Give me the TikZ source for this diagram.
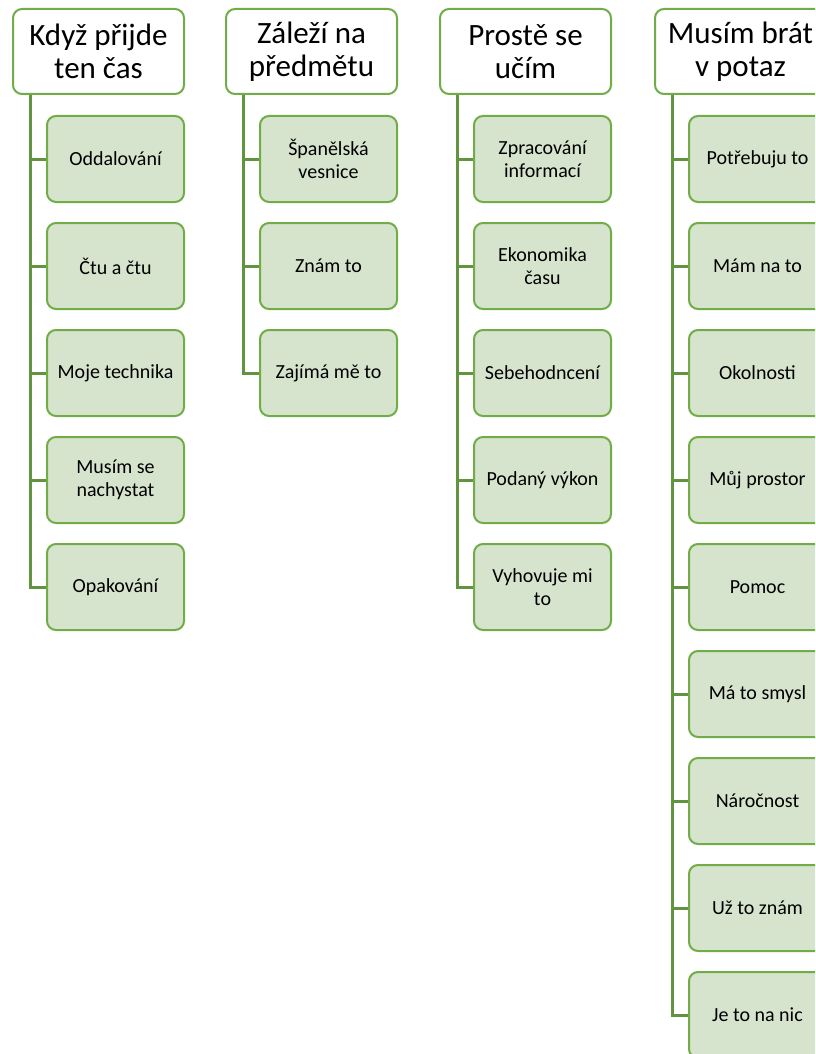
\documentclass[tikz,border=0pt]{standalone}
\usepackage{fontspec}
\setmainfont{Carlito}
\usetikzlibrary{backgrounds}
\definecolor{boxline}{RGB}{112,173,71}
\definecolor{linkline}{RGB}{96,148,62}
\definecolor{leaffill}{RGB}{214,228,206}
\tikzset{
  headbox/.style={draw=boxline, line width=2pt, fill=white, rounded corners=9pt,
    minimum width=171pt, minimum height=85pt, align=center, inner sep=2pt,
    font=\fontsize{31}{33}\selectfont},
  leafbox/.style={draw=boxline, line width=2pt, fill=leaffill, rounded corners=9pt,
    minimum width=137pt, minimum height=86pt, align=center, inner sep=2pt,
    font=\fontsize{20}{23}\selectfont},
  link/.style={draw=linkline, line width=3pt}
}
\begin{document}
\begin{tikzpicture}[x=1pt, y=-1pt]
  \clip (0,0) rectangle (815,1054);
  \useasboundingbox (0,0) rectangle (815,1054);

  % column heads (left edges 13, 226, 440, 655)
  \node[headbox] (h1) at (98.5,51.5)  {Když přijde\\ten čas};
  \node[headbox] (h2) at (311.5,51.5) {Záleží na\\předmětu};
  \node[headbox] (h3) at (525.5,51.5) {Prostě se\\učím};
  \node[headbox] (h4) at (740.5,51.5) {Musím brát\\v potaz};

  % first column
  \foreach \t [count=\i] in {Oddalování, Čtu a čtu, Moje technika, {Musím se\\nachystat}, Opakování}
    \node[leafbox] (a\i) at (115.5, {159+107*(\i-1)}) {\t};
  % second column
  \foreach \t [count=\i] in {{Španělská\\vesnice}, Znám to, Zajímá mě to}
    \node[leafbox] (b\i) at (328.5, {159+107*(\i-1)}) {\t};
  % third column
  \foreach \t [count=\i] in {{Zpracování\\informací}, {Ekonomika\\času}, Sebehodncení, Podaný výkon, {Vyhovuje mi\\to}}
    \node[leafbox] (c\i) at (542.5, {159+107*(\i-1)}) {\t};
  % fourth column
  \foreach \t [count=\i] in {Potřebuju to, Mám na to, Okolnosti, Můj prostor, Pomoc, Má to smysl, Náročnost, Už to znám, Je to na nic}
    \node[leafbox] (d\i) at (757.5, {159+107*(\i-1)}) {\t};

  % elbow connectors from each head to its leaves
  \begin{scope}[on background layer]
    \foreach \i in {1,...,5} \draw[link] ([xshift=18pt]h1.south west) |- (a\i.west);
    \foreach \i in {1,...,3} \draw[link] ([xshift=18pt]h2.south west) |- (b\i.west);
    \foreach \i in {1,...,5} \draw[link] ([xshift=18pt]h3.south west) |- (c\i.west);
    \foreach \i in {1,...,9} \draw[link] ([xshift=18pt]h4.south west) |- (d\i.west);
  \end{scope}
\end{tikzpicture}
\end{document}
